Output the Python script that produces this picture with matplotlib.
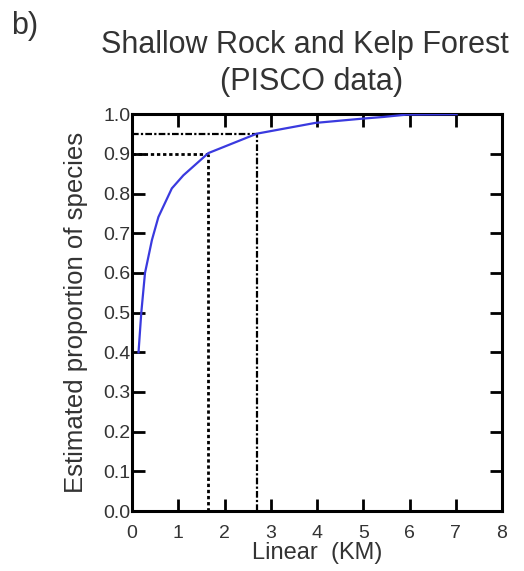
import numpy as np
import matplotlib.pyplot as plt

plt.rcParams['font.family'] = ['Liberation Sans', 'DejaVu Sans']

# curve
dist_km = [0.14, 0.2, 0.28, 0.43, 0.57, 0.86, 1.11, 1.65, 2.7, 3.96, 5.0, 5.43, 5.94, 7.02]
prop_species = [0.40, 0.50, 0.60, 0.683, 0.741, 0.813, 0.846, 0.902, 0.951, 0.978, 0.989, 0.993, 0.999, 1.0]

# reference levels
level_90 = 0.90
km_90 = 1.65
level_95 = 0.95
km_95 = 2.7

xticks = [0, 1, 2, 3, 4, 5, 6, 7, 8]
yticks = [0.0, 0.1, 0.2, 0.3, 0.4, 0.5, 0.6, 0.7, 0.8, 0.9, 1.0]

fig = plt.figure(figsize=(5.24, 5.71), dpi=100)
ax = fig.add_axes([0.252, 0.105, 0.706, 0.695])

ax.plot(dist_km, prop_species, color='#3a3adf', lw=1.6, zorder=3)

ax.plot([0, km_90], [level_90, level_90], color='black', ls=(0, (1.2, 1.0)), lw=2)
ax.plot([km_90, km_90], [0, level_90], color='black', ls=(0, (1.2, 1.0)), lw=2)
ax.plot([0, km_95], [level_95, level_95], color='black', ls=(0, (3, 1, 1, 1)), lw=1.6)
ax.plot([km_95, km_95], [0, level_95], color='black', ls=(0, (3, 1, 1, 1)), lw=1.6)

ax.set_xlim(0, 8)
ax.set_ylim(0, 1.0)
ax.set_xticks(xticks)
ax.set_yticks(yticks)
ax.set_yticklabels(['{:.1f}'.format(v) for v in yticks])
ax.tick_params(direction='in', length=9, width=2, top=True, right=True,
               labelsize=14, labelcolor='#333333')
ax.tick_params(axis='y', pad=1)
ax.tick_params(axis='x', pad=10)
for s in ax.spines.values():
    s.set_linewidth(2.2)

ax.set_xlabel('Linear  (KM)', fontsize=17, color='#333333', labelpad=0)
ax.set_ylabel('Estimated proportion of species', fontsize=18.5, color='#333333')
ax.yaxis.set_label_coords(-0.12, 0.5)

fig.text(0.582, 1 - 45 / 571, 'Shallow Rock and Kelp Forest', ha='center', va='center',
         fontsize=22, color='#333333')
fig.text(0.595, 1 - 82 / 571, '(PISCO data)', ha='center', va='center',
         fontsize=22, color='#333333')
fig.text(0.022, 1 - 11 / 571, 'b)', fontsize=22, color='#333333', va='top')

fig.savefig('out.png', dpi=100)
